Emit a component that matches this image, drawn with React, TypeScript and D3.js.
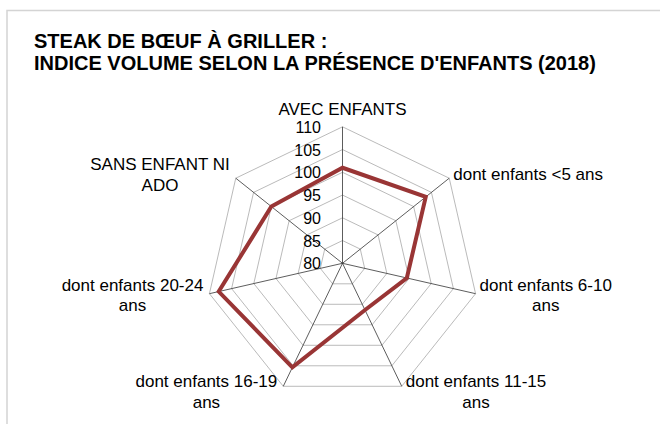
import { useEffect, useRef } from "react";
import * as d3 from "d3";

// axis categories (line breaks as in the original chart)
const categories = [
  "AVEC ENFANTS",
  "dont enfants <5 ans",
  "dont enfants 6-10\nans",
  "dont enfants 11-15\nans",
  "dont enfants 16-19\nans",
  "dont enfants 20-24\nans",
  "SANS ENFANT NI\nADO",
];

// indice volume
const values = [101, 103.4, 94.5, 91.4, 105.4, 107.9, 100];

const ticks = [80, 85, 90, 95, 100, 105, 110];

const titleLines = [
  "STEAK DE BŒUF À GRILLER :",
  "INDICE VOLUME SELON LA PRÉSENCE D'ENFANTS (2018)",
];

function App() {
  const ref = useRef<SVGSVGElement | null>(null);

  useEffect(() => {
    const width = 660;
    const height = 424;
    const cx = 342.5;
    const cy = 263.3;
    const R = 136.5;
    const font = "'Liberation Sans', Arial, sans-serif";

    const svg = d3.select(ref.current);
    svg.selectAll("*").remove();
    svg.attr("width", width).attr("height", height);

    svg.append("rect").attr("width", width).attr("height", height).attr("fill", "#fff");

    // chart frame (only top and left edges visible)
    svg
      .append("rect")
      .attr("x", 7)
      .attr("y", 10.5)
      .attr("width", 800)
      .attr("height", 600)
      .attr("fill", "none")
      .attr("stroke", "#d4d4d4")
      .attr("stroke-width", 1.5);

    // title
    const title = svg
      .append("text")
      .attr("font-family", font)
      .attr("font-weight", "bold")
      .attr("font-size", 20)
      .attr("fill", "#000");
    titleLines.forEach((t, i) => {
      title.append("tspan").attr("x", 34).attr("y", 48 + i * 22).text(t);
    });

    const n = categories.length;
    const angle = d3
      .scaleLinear()
      .domain([0, n])
      .range([0, 2 * Math.PI]);
    const r = d3.scaleLinear().domain([80, 110]).range([0, R]);

    const pt = (i: number, v: number): [number, number] => {
      const a = angle(i);
      return [cx + r(v) * Math.sin(a), cy - r(v) * Math.cos(a)];
    };

    // grid rings
    ticks.slice(1).forEach((t) => {
      const ring = d3.range(n).map((i) => pt(i, t));
      svg
        .append("path")
        .attr("d", d3.line()(ring) + "Z")
        .attr("fill", "none")
        .attr("stroke", "#a8a8a8")
        .attr("stroke-width", 0.8);
    });

    // spokes
    d3.range(n).forEach((i) => {
      const [x, y] = pt(i, 110);
      svg
        .append("line")
        .attr("x1", cx)
        .attr("y1", cy)
        .attr("x2", x)
        .attr("y2", y)
        .attr("stroke", "#333")
        .attr("stroke-width", 0.8);
    });

    // tick labels
    svg
      .append("g")
      .selectAll("text")
      .data(ticks)
      .enter()
      .append("text")
      .attr("x", cx - 21.5)
      .attr("y", (d) => cy - r(d) + 6)
      .attr("text-anchor", "end")
      .attr("font-family", font)
      .attr("font-size", 16)
      .attr("fill", "#000")
      .text((d) => d);

    // data polygon
    const poly = values.map((v, i) => pt(i, v));
    svg
      .append("path")
      .attr("d", d3.line()(poly) + "Z")
      .attr("fill", "none")
      .attr("stroke", "#993535")
      .attr("stroke-width", 4)
      .attr("stroke-linejoin", "miter");

    // category labels
    const lineH = 20.5;
    categories.forEach((c, i) => {
      const lines = c.split("\n");
      const a = angle(i);
      const [vx, vy] = pt(i, 110);
      const s = Math.sin(a);
      const g = svg.append("g");
      const texts = lines.map((l) =>
        g
          .append("text")
          .attr("font-family", font)
          .attr("font-size", 17)
          .attr("fill", "#000")
          .attr("text-anchor", "middle")
          .text(l)
      );
      const widths = texts.map((t) => (t.node() as SVGTextElement).getComputedTextLength());
      const bw = d3.max(widths) || 0;
      let centerX: number;
      if (Math.abs(s) < 0.05) centerX = vx;
      else if (s > 0) centerX = vx + 4 + bw / 2;
      else centerX = vx - 6 - bw / 2;
      let firstBase: number;
      if (Math.abs(s) < 0.05) {
        firstBase = vy - 11.5 - (lines.length - 1) * lineH;
      } else {
        const mid = vy - Math.cos(a) * 6;
        firstBase = mid - ((lines.length - 1) * lineH) / 2 + 6;
      }
      texts.forEach((t, k) => t.attr("x", centerX).attr("y", firstBase + k * lineH));
    });
  }, []);

  return (
    <svg
      ref={ref}
      style={{ position: "absolute", left: 0, top: 0, display: "block" }}
    />
  );
}

export default App;
